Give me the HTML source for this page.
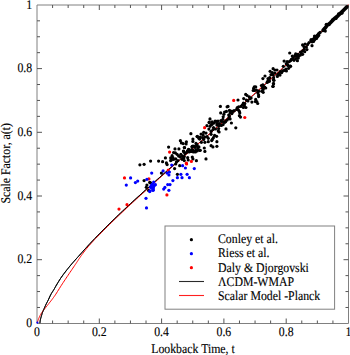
<!DOCTYPE html>
<html><head><meta charset="utf-8"><style>
html,body{margin:0;padding:0;background:#fff;}
svg{display:block;}
text{font-family:"Liberation Serif",serif;font-size:11.8px;fill:#000;text-rendering:geometricPrecision;stroke:#000;stroke-width:0.12px;}
</style></head><body>
<svg width="350" height="355" viewBox="0 0 350 355">
<path d="M37 5H348.5V323.5H37Z" fill="none" stroke="#808080" stroke-width="1"/><path d="M52.58 323.5v-3M52.58 5v3M37 307.47h3M348.5 307.47h-3M68.15 323.5v-3M68.15 5v3M37 291.55h3M348.5 291.55h-3M83.73 323.5v-3M83.73 5v3M37 275.62h3M348.5 275.62h-3M99.30 323.5v-5M99.30 5v5M37 259.70h5M348.5 259.70h-5M114.88 323.5v-3M114.88 5v3M37 243.77h3M348.5 243.77h-3M130.45 323.5v-3M130.45 5v3M37 227.85h3M348.5 227.85h-3M146.03 323.5v-3M146.03 5v3M37 211.92h3M348.5 211.92h-3M161.60 323.5v-5M161.60 5v5M37 196.00h5M348.5 196.00h-5M177.18 323.5v-3M177.18 5v3M37 180.07h3M348.5 180.07h-3M192.75 323.5v-3M192.75 5v3M37 164.15h3M348.5 164.15h-3M208.33 323.5v-3M208.33 5v3M37 148.22h3M348.5 148.22h-3M223.90 323.5v-5M223.90 5v5M37 132.30h5M348.5 132.30h-5M239.47 323.5v-3M239.47 5v3M37 116.37h3M348.5 116.37h-3M255.05 323.5v-3M255.05 5v3M37 100.45h3M348.5 100.45h-3M270.62 323.5v-3M270.62 5v3M37 84.52h3M348.5 84.52h-3M286.20 323.5v-5M286.20 5v5M37 68.60h5M348.5 68.60h-5M301.78 323.5v-3M301.78 5v3M37 52.67h3M348.5 52.67h-3M317.35 323.5v-3M317.35 5v3M37 36.75h3M348.5 36.75h-3M332.93 323.5v-3M332.93 5v3M37 20.82h3M348.5 20.82h-3" stroke="#555555" stroke-width="1" fill="none"/>
<path d="M39.90 323.20 L39.95 322.81 L40.01 322.26 L40.09 321.62 L40.18 320.93 L40.28 320.24 L40.40 319.60 L40.54 319.01 L40.70 318.42 L40.87 317.84 L41.05 317.26 L41.23 316.68 L41.40 316.10 L41.56 315.53 L41.71 314.96 L41.87 314.40 L42.03 313.84 L42.20 313.27 L42.40 312.70 L42.62 312.13 L42.85 311.57 L43.09 311.01 L43.35 310.44 L43.62 309.84 L43.90 309.20 L44.19 308.52 L44.48 307.82 L44.79 307.09 L45.11 306.34 L45.44 305.57 L45.80 304.80 L46.18 304.02 L46.58 303.23 L47.00 302.43 L47.43 301.61 L47.86 300.77 L48.30 299.90 L48.74 298.98 L49.18 298.02 L49.62 297.03 L50.08 296.05 L50.54 295.10 L51.00 294.20 L51.48 293.37 L51.96 292.59 L52.46 291.83 L52.95 291.09 L53.43 290.35 L53.90 289.60 L54.32 288.87 L54.70 288.19 L55.08 287.50 L55.47 286.77 L55.94 285.95 L56.50 285.00 L57.17 283.88 L57.93 282.63 L58.76 281.29 L59.62 279.90 L60.51 278.53 L61.40 277.20 L62.30 275.91 L63.24 274.63 L64.19 273.35 L65.16 272.08 L66.13 270.83 L67.10 269.60 L68.05 268.41 L68.99 267.24 L69.93 266.10 L70.89 264.96 L71.87 263.79 L72.90 262.60 L73.98 261.37 L75.10 260.11 L76.24 258.83 L77.40 257.55 L78.56 256.27 L79.70 255.00 L80.82 253.75 L81.92 252.50 L83.03 251.26 L84.14 250.01 L85.26 248.76 L86.40 247.50 L87.63 246.16 L88.95 244.73 L90.29 243.30 L91.55 241.95 L92.68 240.75 L93.57 239.79 L94.22 239.11 L94.68 238.63 L94.99 238.32 L95.20 238.11 L95.36 237.96 L95.51 237.81 L97.44 235.84 L99.37 233.90 L101.30 231.94 L103.23 229.98 L105.16 228.03 L107.09 226.11 L109.03 224.19 L110.96 222.29 L112.89 220.41 L114.82 218.53 L116.75 216.67 L118.68 214.82 L120.61 212.98 L122.54 211.16 L124.48 209.34 L126.41 207.53 L128.34 205.73 L130.27 203.94 L132.20 202.15 L134.13 200.38 L136.06 198.61 L137.99 196.85 L139.93 195.09 L141.86 193.34 L143.79 191.60 L145.72 189.87 L147.65 188.14 L149.58 186.41 L151.51 184.68 L153.44 182.95 L155.38 181.22 L157.31 179.50 L159.24 177.78 L161.17 176.07 L163.10 174.35 L165.03 172.65 L166.96 170.94 L168.89 169.24 L170.82 167.54 L172.76 165.84 L174.69 164.15 L176.62 162.46 L178.55 160.77 L180.48 159.08 L182.41 157.39 L184.34 155.70 L186.28 154.02 L188.21 152.34 L190.14 150.65 L192.07 148.97 L194.00 147.29 L195.93 145.61 L197.86 143.93 L199.79 142.25 L201.72 140.56 L203.66 138.88 L205.59 137.20 L207.52 135.52 L209.45 133.84 L211.38 132.15 L213.31 130.47 L215.24 128.79 L217.17 127.10 L219.11 125.41 L221.04 123.72 L222.97 122.03 L224.90 120.34 L226.83 118.65 L228.76 116.95 L230.69 115.26 L232.62 113.56 L234.56 111.86 L236.49 110.15 L238.42 108.45 L240.35 106.74 L242.28 105.03 L244.21 103.32 L246.14 101.60 L248.08 99.88 L250.01 98.16 L251.94 96.44 L253.87 94.71 L255.80 92.98 L257.73 91.25 L259.66 89.51 L261.59 87.77 L263.52 86.02 L265.46 84.27 L267.39 82.52 L269.32 80.76 L271.25 79.00 L273.18 77.24 L275.11 75.47 L277.04 73.70 L278.98 71.92 L280.91 70.15 L282.84 68.38 L284.77 66.60 L286.70 64.82 L288.63 63.04 L290.56 61.25 L292.49 59.45 L294.42 57.65 L296.36 55.85 L298.29 54.04 L300.22 52.22 L302.15 50.40 L304.08 48.58 L306.01 46.74 L307.94 44.91 L309.88 43.06 L311.81 41.22 L313.74 39.36 L315.67 37.50 L317.60 35.64 L319.53 33.76 L321.46 31.89 L323.39 30.00 L325.32 28.11 L327.26 26.21 L329.19 24.31 L331.12 22.40 L333.05 20.48 L334.98 18.56 L336.91 16.63 L338.84 14.69 L340.77 12.75 L342.71 10.80 L344.64 8.84 L346.57 6.87 L348.50 4.90" stroke="#000" stroke-width="0.95" fill="none" stroke-linejoin="round"/>
<path d="M37.20 322.80 L37.33 322.40 L37.51 321.86 L37.73 321.21 L37.97 320.51 L38.23 319.79 L38.50 319.10 L38.78 318.42 L39.09 317.70 L39.41 316.97 L39.74 316.24 L40.07 315.55 L40.40 314.90 L40.72 314.31 L41.04 313.76 L41.36 313.24 L41.69 312.73 L42.04 312.22 L42.40 311.70 L42.77 311.19 L43.14 310.70 L43.53 310.21 L43.94 309.69 L44.40 309.13 L44.90 308.50 L45.47 307.78 L46.10 307.00 L46.76 306.16 L47.45 305.30 L48.13 304.44 L48.80 303.60 L49.46 302.77 L50.13 301.92 L50.80 301.07 L51.46 300.23 L52.10 299.40 L52.70 298.60 L53.23 297.88 L53.70 297.26 L54.14 296.64 L54.61 295.98 L55.15 295.19 L55.80 294.20 L56.59 292.97 L57.48 291.56 L58.44 290.01 L59.43 288.41 L60.43 286.82 L61.40 285.30 L62.34 283.85 L63.29 282.41 L64.24 280.98 L65.19 279.56 L66.14 278.13 L67.10 276.70 L68.08 275.24 L69.07 273.76 L70.07 272.28 L71.06 270.83 L72.01 269.42 L72.90 268.10 L73.73 266.86 L74.52 265.69 L75.28 264.57 L76.00 263.49 L76.71 262.44 L77.40 261.40 L78.05 260.41 L78.65 259.49 L79.23 258.60 L79.82 257.70 L80.46 256.74 L81.20 255.70 L82.02 254.56 L82.91 253.35 L83.85 252.09 L84.83 250.80 L85.85 249.50 L86.90 248.20 L88.06 246.83 L89.35 245.35 L90.67 243.85 L91.95 242.43 L93.08 241.19 L93.97 240.19 L94.62 239.49 L95.07 239.01 L95.38 238.70 L95.60 238.50 L95.76 238.35 L95.91 238.21 L97.84 236.24 L99.77 234.30 L101.70 232.34 L103.63 230.38 L105.56 228.43 L107.49 226.51 L109.43 224.59 L111.36 222.69 L113.29 220.81 L115.22 218.93 L117.15 217.07 L119.08 215.22 L121.01 213.38 L122.94 211.56 L124.88 209.74 L126.81 207.93 L128.74 206.13 L130.67 204.34 L132.60 202.55 L134.53 200.78 L136.46 199.01 L138.39 197.25 L140.33 195.49 L142.26 193.74 L144.19 192.00 L146.12 190.27 L148.05 188.54 L149.98 186.81 L151.90 185.07 L153.82 183.32 L155.74 181.59 L157.66 179.85 L159.58 178.12 L161.50 176.39 L163.42 174.67 L165.34 172.95 L167.25 171.23 L169.17 169.52 L171.09 167.81 L173.01 166.10 L174.93 164.39 L176.85 162.69 L178.77 160.99 L180.69 159.28 L182.61 157.58 L184.53 155.89 L186.44 154.19 L188.36 152.49 L190.28 150.80 L192.20 149.10 L194.12 147.41 L196.04 145.72 L197.96 144.02 L199.88 142.33 L201.80 140.64 L203.71 138.94 L205.63 137.25 L207.55 135.55 L209.47 133.86 L211.39 132.16 L213.31 130.47 L215.23 128.77 L217.15 127.07 L219.07 125.37 L220.99 123.67 L222.90 121.97 L224.82 120.27 L226.74 118.56 L228.66 116.85 L230.58 115.14 L232.50 113.43 L234.42 111.72 L236.34 110.00 L238.26 108.29 L240.18 106.57 L242.09 104.84 L244.01 103.12 L245.93 101.39 L247.85 99.66 L249.77 97.93 L251.69 96.19 L253.61 94.45 L255.53 92.71 L257.45 90.96 L259.36 89.21 L261.29 87.47 L263.22 85.72 L265.16 83.97 L267.09 82.22 L269.02 80.46 L270.95 78.70 L272.88 76.94 L274.81 75.17 L276.74 73.40 L278.68 71.62 L280.61 69.85 L282.54 68.08 L284.47 66.30 L286.40 64.52 L288.33 62.74 L290.26 60.95 L292.19 59.15 L294.12 57.35 L296.06 55.55 L297.99 53.74 L299.92 51.92 L301.85 50.10 L303.78 48.28 L305.71 46.44 L307.64 44.61 L309.57 42.76 L311.51 40.92 L313.44 39.06 L315.37 37.20 L317.30 35.34 L319.23 33.46 L321.16 31.59 L323.09 29.70 L325.02 27.81 L326.96 25.91 L328.89 24.01 L330.82 22.10 L332.75 20.18 L334.68 18.26 L336.61 16.33 L338.54 14.39 L340.47 12.45 L342.41 10.50 L344.34 8.54 L346.27 6.57 L348.20 4.60" stroke="#f00" stroke-width="1.0" fill="none" stroke-linejoin="round"/>
<path d="M39.90 323.20 L39.95 322.81 L40.01 322.26 L40.09 321.62 L40.18 320.93 L40.28 320.24 L40.40 319.60 L40.54 319.01 L40.70 318.42 L40.87 317.84 L41.05 317.26 L41.23 316.68 L41.40 316.10 L41.56 315.53 L41.71 314.96 L41.87 314.40 L42.03 313.84 L42.20 313.27 L42.40 312.70 L42.62 312.13 L42.85 311.57 L43.09 311.01 L43.35 310.44 L43.62 309.84 L43.90 309.20 L44.19 308.52 L44.48 307.82 L44.79 307.09 L45.11 306.34 L45.44 305.57 L45.80 304.80 L46.18 304.02 L46.58 303.23 L47.00 302.43 L47.43 301.61 L47.86 300.77 L48.30 299.90 L48.74 298.98 L49.18 298.02 L49.62 297.03 L50.08 296.05 L50.54 295.10 L51.00 294.20 L51.48 293.37 L51.96 292.59 L52.46 291.83 L52.95 291.09 L53.43 290.35 L53.90 289.60 L54.32 288.87 L54.70 288.19 L55.08 287.50 L55.47 286.77 L55.94 285.95 L56.50 285.00 L57.17 283.88 L57.93 282.63 L58.76 281.29 L59.62 279.90 L60.51 278.53 L61.40 277.20 L62.30 275.91 L63.24 274.63 L64.19 273.35 L65.16 272.08 L66.13 270.83 L67.10 269.60 L68.05 268.41 L68.99 267.24 L69.93 266.10 L70.89 264.96 L71.87 263.79 L72.90 262.60 L73.98 261.37 L75.10 260.11 L76.24 258.83 L77.40 257.55 L78.56 256.27 L79.70 255.00 L80.82 253.75 L81.92 252.50 L83.03 251.26 L84.14 250.01 L85.26 248.76 L86.40 247.50 L87.63 246.16 L88.95 244.73 L90.29 243.30 L91.55 241.95 L92.68 240.75 L93.57 239.79 L94.22 239.11 L94.68 238.63 L94.99 238.32 L95.20 238.11 L95.36 237.96 L95.51 237.81 L97.44 235.84 L99.37 233.90 L101.30 231.94 L103.23 229.98 L105.16 228.03 L107.09 226.11 L109.03 224.19 L110.96 222.29 L112.89 220.41 L114.82 218.53 L116.75 216.67 L118.68 214.82 L120.61 212.98 L122.54 211.16 L124.48 209.34 L126.41 207.53 L128.34 205.73 L130.27 203.94 L132.20 202.15 L134.13 200.38 L136.06 198.61 L137.99 196.85 L139.93 195.09 L141.86 193.34 L143.79 191.60 L145.72 189.87 L147.65 188.14 L149.58 186.41 L151.51 184.68 L153.44 182.95 L155.38 181.22 L157.31 179.50 L159.24 177.78 L161.17 176.07 L163.10 174.35 L165.03 172.65 L166.96 170.94 L168.89 169.24 L170.82 167.54 L172.76 165.84 L174.69 164.15" stroke="#000" stroke-width="0.95" fill="none" stroke-linejoin="round"/>
<circle cx="37.4" cy="322.6" r="1.1" fill="#00f"/>
<path d="M318.2 35.2 L312.2 41.1" stroke="#000" stroke-width="4.4" fill="none" stroke-linecap="round" stroke-linejoin="round"/><path d="M346.9 6.9 L344.3 9.5 L340.9 12.9 L338 15.7 L334 19 L330.6 22.6 L327.1 25.4 L324.9 28.3 L323.1 30.3" stroke="#000" stroke-width="3.7" fill="none" stroke-linecap="round" stroke-linejoin="round"/><circle cx="338.6" cy="13.9" r="1.6" fill="#000"/><circle cx="336.0" cy="18.5" r="1.6" fill="#000"/><circle cx="332.5" cy="19.9" r="1.6" fill="#000"/><circle cx="329.2" cy="24.6" r="1.6" fill="#000"/><circle cx="341.9" cy="13.2" r="1.6" fill="#000"/><circle cx="326.3" cy="24.3" r="1.6" fill="#000"/><circle cx="325.3" cy="31.1" r="1.6" fill="#000"/><circle cx="320.1" cy="32.4" r="1.6" fill="#000"/><circle cx="318.9" cy="33.3" r="1.6" fill="#000"/><circle cx="318.5" cy="34.5" r="1.6" fill="#000"/><circle cx="317.0" cy="36.5" r="1.6" fill="#000"/><circle cx="315.5" cy="37.5" r="1.6" fill="#000"/><circle cx="314.5" cy="39.0" r="1.6" fill="#000"/><circle cx="313.0" cy="40.0" r="1.6" fill="#000"/><circle cx="312.0" cy="41.5" r="1.6" fill="#000"/><circle cx="314.5" cy="36.0" r="1.6" fill="#000"/><circle cx="316.5" cy="38.5" r="1.6" fill="#000"/><circle cx="311.0" cy="40.5" r="1.6" fill="#000"/><circle cx="313.5" cy="41.5" r="1.6" fill="#000"/><circle cx="312.0" cy="45.7" r="1.6" fill="#000"/><circle cx="311.1" cy="39.7" r="1.6" fill="#000"/><circle cx="302.6" cy="44.9" r="1.6" fill="#000"/><circle cx="305.1" cy="44.0" r="1.6" fill="#000"/><circle cx="307.7" cy="44.4" r="1.6" fill="#000"/><circle cx="303.9" cy="46.6" r="1.6" fill="#000"/><circle cx="306.4" cy="47.0" r="1.6" fill="#000"/><circle cx="304.3" cy="49.1" r="1.6" fill="#000"/><circle cx="306.9" cy="49.6" r="1.6" fill="#000"/><circle cx="302.6" cy="50.9" r="1.6" fill="#000"/><circle cx="304.7" cy="51.7" r="1.6" fill="#000"/><circle cx="301.3" cy="53.0" r="1.6" fill="#000"/><circle cx="302.6" cy="54.3" r="1.6" fill="#000"/><circle cx="300.4" cy="55.1" r="1.6" fill="#000"/><circle cx="289.7" cy="53.0" r="1.6" fill="#000"/><circle cx="295.7" cy="53.9" r="1.6" fill="#000"/><circle cx="297.9" cy="54.3" r="1.6" fill="#000"/><circle cx="294.9" cy="55.6" r="1.6" fill="#000"/><circle cx="297.0" cy="56.4" r="1.6" fill="#000"/><circle cx="292.3" cy="56.0" r="1.6" fill="#000"/><circle cx="293.1" cy="57.7" r="1.6" fill="#000"/><circle cx="295.7" cy="58.6" r="1.6" fill="#000"/><circle cx="298.3" cy="58.1" r="1.6" fill="#000"/><circle cx="291.4" cy="59.4" r="1.6" fill="#000"/><circle cx="294.0" cy="60.3" r="1.6" fill="#000"/><circle cx="297.4" cy="60.7" r="1.6" fill="#000"/><circle cx="298.7" cy="56.0" r="1.6" fill="#000"/><circle cx="284.1" cy="61.1" r="1.6" fill="#000"/><circle cx="287.1" cy="61.6" r="1.6" fill="#000"/><circle cx="289.3" cy="61.6" r="1.6" fill="#000"/><circle cx="286.3" cy="63.7" r="1.6" fill="#000"/><circle cx="288.0" cy="65.4" r="1.6" fill="#000"/><circle cx="290.6" cy="66.3" r="1.6" fill="#000"/><circle cx="283.3" cy="66.3" r="1.6" fill="#000"/><circle cx="309.0" cy="42.5" r="1.6" fill="#000"/><circle cx="300.5" cy="52.0" r="1.6" fill="#000"/><circle cx="296.0" cy="55.0" r="1.6" fill="#000"/><circle cx="292.5" cy="59.0" r="1.6" fill="#000"/><circle cx="290.7" cy="60.6" r="1.6" fill="#000"/><circle cx="287.7" cy="64.9" r="1.6" fill="#000"/><circle cx="290.3" cy="66.1" r="1.6" fill="#000"/><circle cx="288.6" cy="68.3" r="1.6" fill="#000"/><circle cx="286.0" cy="69.1" r="1.6" fill="#000"/><circle cx="286.4" cy="70.9" r="1.6" fill="#000"/><circle cx="284.3" cy="70.4" r="1.6" fill="#000"/><circle cx="282.6" cy="70.9" r="1.6" fill="#000"/><circle cx="281.7" cy="72.6" r="1.6" fill="#000"/><circle cx="280.4" cy="71.7" r="1.6" fill="#000"/><circle cx="279.1" cy="73.4" r="1.6" fill="#000"/><circle cx="280.0" cy="75.1" r="1.6" fill="#000"/><circle cx="277.9" cy="74.7" r="1.6" fill="#000"/><circle cx="277.4" cy="76.4" r="1.6" fill="#000"/><circle cx="273.1" cy="68.7" r="1.6" fill="#000"/><circle cx="274.9" cy="70.0" r="1.6" fill="#000"/><circle cx="270.1" cy="71.3" r="1.6" fill="#000"/><circle cx="272.3" cy="72.6" r="1.6" fill="#000"/><circle cx="277.0" cy="70.0" r="1.6" fill="#000"/><circle cx="271.0" cy="74.7" r="1.6" fill="#000"/><circle cx="273.1" cy="74.7" r="1.6" fill="#000"/><circle cx="274.9" cy="73.0" r="1.6" fill="#000"/><circle cx="265.0" cy="76.0" r="1.6" fill="#000"/><circle cx="262.9" cy="78.6" r="1.6" fill="#000"/><circle cx="268.0" cy="78.6" r="1.6" fill="#000"/><circle cx="268.9" cy="80.3" r="1.6" fill="#000"/><circle cx="267.6" cy="82.0" r="1.6" fill="#000"/><circle cx="269.7" cy="77.7" r="1.6" fill="#000"/><circle cx="273.6" cy="77.7" r="1.6" fill="#000"/><circle cx="274.0" cy="80.3" r="1.6" fill="#000"/><circle cx="273.6" cy="83.7" r="1.6" fill="#000"/><circle cx="273.1" cy="86.3" r="1.6" fill="#000"/><circle cx="262.9" cy="85.4" r="1.6" fill="#000"/><circle cx="264.6" cy="87.1" r="1.6" fill="#000"/><circle cx="267.9" cy="80.9" r="1.6" fill="#000"/><circle cx="267.1" cy="82.3" r="1.6" fill="#000"/><circle cx="262.9" cy="84.8" r="1.6" fill="#000"/><circle cx="261.4" cy="85.5" r="1.6" fill="#000"/><circle cx="265.7" cy="88.0" r="1.6" fill="#000"/><circle cx="264.3" cy="87.3" r="1.6" fill="#000"/><circle cx="262.5" cy="88.0" r="1.6" fill="#000"/><circle cx="263.2" cy="89.4" r="1.6" fill="#000"/><circle cx="263.2" cy="92.3" r="1.6" fill="#000"/><circle cx="261.8" cy="91.2" r="1.6" fill="#000"/><circle cx="254.3" cy="86.9" r="1.6" fill="#000"/><circle cx="255.7" cy="86.9" r="1.6" fill="#000"/><circle cx="253.6" cy="88.4" r="1.6" fill="#000"/><circle cx="253.2" cy="90.5" r="1.6" fill="#000"/><circle cx="254.6" cy="90.5" r="1.6" fill="#000"/><circle cx="256.4" cy="90.1" r="1.6" fill="#000"/><circle cx="258.6" cy="91.2" r="1.6" fill="#000"/><circle cx="257.9" cy="93.0" r="1.6" fill="#000"/><circle cx="258.6" cy="95.1" r="1.6" fill="#000"/><circle cx="258.6" cy="96.6" r="1.6" fill="#000"/><circle cx="245.7" cy="94.4" r="1.6" fill="#000"/><circle cx="247.1" cy="95.5" r="1.6" fill="#000"/><circle cx="249.3" cy="96.9" r="1.6" fill="#000"/><circle cx="251.1" cy="98.0" r="1.6" fill="#000"/><circle cx="250.0" cy="98.7" r="1.6" fill="#000"/><circle cx="246.4" cy="100.1" r="1.6" fill="#000"/><circle cx="247.9" cy="100.9" r="1.6" fill="#000"/><circle cx="255.7" cy="99.4" r="1.6" fill="#000"/><circle cx="256.8" cy="101.6" r="1.6" fill="#000"/><circle cx="255.4" cy="101.6" r="1.6" fill="#000"/><circle cx="273.4" cy="80.1" r="1.6" fill="#000"/><circle cx="273.4" cy="83.6" r="1.6" fill="#000"/><circle cx="272.9" cy="86.4" r="1.6" fill="#000"/><circle cx="269.4" cy="81.3" r="1.6" fill="#000"/><circle cx="238.0" cy="100.0" r="1.6" fill="#000"/><circle cx="243.7" cy="98.6" r="1.6" fill="#000"/><circle cx="251.9" cy="102.1" r="1.6" fill="#000"/><circle cx="243.4" cy="103.2" r="1.6" fill="#000"/><circle cx="244.8" cy="103.6" r="1.6" fill="#000"/><circle cx="242.3" cy="105.0" r="1.6" fill="#000"/><circle cx="244.4" cy="105.7" r="1.6" fill="#000"/><circle cx="245.9" cy="107.5" r="1.6" fill="#000"/><circle cx="243.4" cy="107.5" r="1.6" fill="#000"/><circle cx="240.9" cy="106.4" r="1.6" fill="#000"/><circle cx="238.7" cy="106.8" r="1.6" fill="#000"/><circle cx="237.3" cy="107.5" r="1.6" fill="#000"/><circle cx="236.6" cy="109.3" r="1.6" fill="#000"/><circle cx="238.4" cy="110.0" r="1.6" fill="#000"/><circle cx="239.4" cy="111.4" r="1.6" fill="#000"/><circle cx="239.8" cy="112.9" r="1.6" fill="#000"/><circle cx="239.4" cy="115.7" r="1.6" fill="#000"/><circle cx="240.5" cy="117.1" r="1.6" fill="#000"/><circle cx="229.4" cy="110.4" r="1.6" fill="#000"/><circle cx="230.9" cy="111.1" r="1.6" fill="#000"/><circle cx="232.6" cy="111.4" r="1.6" fill="#000"/><circle cx="234.1" cy="110.7" r="1.6" fill="#000"/><circle cx="230.1" cy="112.9" r="1.6" fill="#000"/><circle cx="231.9" cy="113.6" r="1.6" fill="#000"/><circle cx="228.7" cy="115.0" r="1.6" fill="#000"/><circle cx="229.4" cy="116.4" r="1.6" fill="#000"/><circle cx="228.7" cy="118.6" r="1.6" fill="#000"/><circle cx="230.1" cy="118.9" r="1.6" fill="#000"/><circle cx="228.0" cy="106.4" r="1.6" fill="#000"/><circle cx="231.4" cy="123.0" r="1.6" fill="#000"/><circle cx="235.8" cy="127.8" r="1.6" fill="#000"/><circle cx="220.4" cy="106.4" r="1.6" fill="#000"/><circle cx="227.1" cy="106.8" r="1.6" fill="#000"/><circle cx="220.7" cy="112.9" r="1.6" fill="#000"/><circle cx="224.6" cy="112.1" r="1.6" fill="#000"/><circle cx="226.4" cy="111.4" r="1.6" fill="#000"/><circle cx="223.9" cy="114.3" r="1.6" fill="#000"/><circle cx="223.2" cy="116.8" r="1.6" fill="#000"/><circle cx="222.9" cy="119.3" r="1.6" fill="#000"/><circle cx="221.4" cy="121.4" r="1.6" fill="#000"/><circle cx="223.6" cy="122.1" r="1.6" fill="#000"/><circle cx="225.7" cy="121.4" r="1.6" fill="#000"/><circle cx="227.1" cy="120.0" r="1.6" fill="#000"/><circle cx="210.0" cy="118.9" r="1.6" fill="#000"/><circle cx="209.3" cy="122.1" r="1.6" fill="#000"/><circle cx="212.1" cy="121.8" r="1.6" fill="#000"/><circle cx="214.3" cy="122.9" r="1.6" fill="#000"/><circle cx="216.4" cy="121.4" r="1.6" fill="#000"/><circle cx="217.5" cy="123.6" r="1.6" fill="#000"/><circle cx="219.3" cy="123.6" r="1.6" fill="#000"/><circle cx="212.1" cy="124.3" r="1.6" fill="#000"/><circle cx="215.1" cy="121.1" r="1.6" fill="#000"/><circle cx="218.0" cy="121.1" r="1.6" fill="#000"/><circle cx="220.9" cy="120.6" r="1.6" fill="#000"/><circle cx="224.9" cy="122.3" r="1.6" fill="#000"/><circle cx="223.1" cy="124.6" r="1.6" fill="#000"/><circle cx="221.4" cy="125.4" r="1.6" fill="#000"/><circle cx="219.1" cy="125.7" r="1.6" fill="#000"/><circle cx="216.9" cy="125.1" r="1.6" fill="#000"/><circle cx="211.1" cy="124.6" r="1.6" fill="#000"/><circle cx="210.0" cy="126.3" r="1.6" fill="#000"/><circle cx="218.6" cy="128.6" r="1.6" fill="#000"/><circle cx="218.3" cy="130.9" r="1.6" fill="#000"/><circle cx="219.1" cy="132.0" r="1.6" fill="#000"/><circle cx="211.1" cy="131.4" r="1.6" fill="#000"/><circle cx="226.0" cy="128.9" r="1.6" fill="#000"/><circle cx="211.1" cy="134.3" r="1.6" fill="#000"/><circle cx="214.6" cy="135.4" r="1.6" fill="#000"/><circle cx="216.6" cy="136.3" r="1.6" fill="#000"/><circle cx="213.4" cy="137.7" r="1.6" fill="#000"/><circle cx="212.3" cy="139.4" r="1.6" fill="#000"/><circle cx="213.5" cy="127.5" r="1.6" fill="#000"/><circle cx="215.5" cy="129.0" r="1.6" fill="#000"/><circle cx="213.0" cy="129.5" r="1.6" fill="#000"/><circle cx="209.1" cy="122.6" r="1.6" fill="#000"/><circle cx="206.9" cy="125.7" r="1.6" fill="#000"/><circle cx="208.9" cy="129.1" r="1.6" fill="#000"/><circle cx="190.9" cy="133.7" r="1.6" fill="#000"/><circle cx="203.7" cy="132.3" r="1.6" fill="#000"/><circle cx="206.0" cy="133.1" r="1.6" fill="#000"/><circle cx="201.1" cy="134.0" r="1.6" fill="#000"/><circle cx="203.1" cy="134.9" r="1.6" fill="#000"/><circle cx="197.4" cy="136.3" r="1.6" fill="#000"/><circle cx="200.3" cy="137.1" r="1.6" fill="#000"/><circle cx="202.6" cy="137.7" r="1.6" fill="#000"/><circle cx="204.9" cy="137.1" r="1.6" fill="#000"/><circle cx="207.1" cy="136.6" r="1.6" fill="#000"/><circle cx="208.3" cy="138.3" r="1.6" fill="#000"/><circle cx="192.9" cy="139.1" r="1.6" fill="#000"/><circle cx="199.7" cy="139.1" r="1.6" fill="#000"/><circle cx="203.7" cy="139.4" r="1.6" fill="#000"/><circle cx="216.9" cy="141.7" r="1.6" fill="#000"/><circle cx="216.9" cy="146.3" r="1.6" fill="#000"/><circle cx="211.1" cy="145.7" r="1.6" fill="#000"/><circle cx="212.9" cy="146.9" r="1.6" fill="#000"/><circle cx="204.3" cy="148.0" r="1.6" fill="#000"/><circle cx="204.9" cy="151.4" r="1.6" fill="#000"/><circle cx="201.4" cy="142.3" r="1.6" fill="#000"/><circle cx="204.9" cy="142.3" r="1.6" fill="#000"/><circle cx="208.3" cy="141.7" r="1.6" fill="#000"/><circle cx="211.7" cy="140.6" r="1.6" fill="#000"/><circle cx="196.9" cy="144.6" r="1.6" fill="#000"/><circle cx="194.6" cy="146.3" r="1.6" fill="#000"/><circle cx="198.0" cy="147.4" r="1.6" fill="#000"/><circle cx="200.3" cy="150.3" r="1.6" fill="#000"/><circle cx="195.7" cy="150.3" r="1.6" fill="#000"/><circle cx="191.7" cy="149.7" r="1.6" fill="#000"/><circle cx="192.3" cy="146.3" r="1.6" fill="#000"/><circle cx="191.1" cy="151.4" r="1.6" fill="#000"/><circle cx="193.4" cy="152.0" r="1.6" fill="#000"/><circle cx="192.3" cy="157.1" r="1.6" fill="#000"/><circle cx="192.9" cy="158.9" r="1.6" fill="#000"/><circle cx="206.0" cy="158.9" r="1.6" fill="#000"/><circle cx="180.4" cy="140.7" r="1.6" fill="#000"/><circle cx="181.4" cy="142.9" r="1.6" fill="#000"/><circle cx="183.2" cy="143.6" r="1.6" fill="#000"/><circle cx="186.4" cy="141.8" r="1.6" fill="#000"/><circle cx="186.1" cy="143.9" r="1.6" fill="#000"/><circle cx="168.6" cy="147.1" r="1.6" fill="#000"/><circle cx="175.0" cy="148.9" r="1.6" fill="#000"/><circle cx="178.9" cy="148.9" r="1.6" fill="#000"/><circle cx="184.3" cy="147.5" r="1.6" fill="#000"/><circle cx="188.6" cy="149.3" r="1.6" fill="#000"/><circle cx="189.3" cy="151.4" r="1.6" fill="#000"/><circle cx="183.6" cy="151.4" r="1.6" fill="#000"/><circle cx="185.0" cy="153.6" r="1.6" fill="#000"/><circle cx="186.4" cy="152.5" r="1.6" fill="#000"/><circle cx="173.6" cy="152.5" r="1.6" fill="#000"/><circle cx="175.4" cy="152.9" r="1.6" fill="#000"/><circle cx="177.1" cy="154.3" r="1.6" fill="#000"/><circle cx="178.6" cy="156.1" r="1.6" fill="#000"/><circle cx="180.4" cy="157.1" r="1.6" fill="#000"/><circle cx="182.5" cy="156.1" r="1.6" fill="#000"/><circle cx="183.6" cy="158.2" r="1.6" fill="#000"/><circle cx="182.1" cy="159.3" r="1.6" fill="#000"/><circle cx="172.1" cy="155.7" r="1.6" fill="#000"/><circle cx="170.7" cy="157.9" r="1.6" fill="#000"/><circle cx="172.9" cy="157.5" r="1.6" fill="#000"/><circle cx="171.4" cy="160.0" r="1.6" fill="#000"/><circle cx="173.6" cy="159.3" r="1.6" fill="#000"/><circle cx="175.7" cy="158.9" r="1.6" fill="#000"/><circle cx="165.4" cy="157.9" r="1.6" fill="#000"/><circle cx="166.4" cy="162.9" r="1.6" fill="#000"/><circle cx="177.9" cy="160.7" r="1.6" fill="#000"/><circle cx="176.4" cy="162.1" r="1.6" fill="#000"/><circle cx="188.2" cy="160.0" r="1.6" fill="#000"/><circle cx="187.7" cy="157.7" r="1.6" fill="#000"/><circle cx="184.3" cy="156.6" r="1.6" fill="#000"/><circle cx="180.9" cy="154.3" r="1.6" fill="#000"/><circle cx="150.6" cy="161.1" r="1.6" fill="#000"/><circle cx="158.6" cy="161.1" r="1.6" fill="#000"/><circle cx="162.6" cy="161.7" r="1.6" fill="#000"/><circle cx="167.1" cy="164.6" r="1.6" fill="#000"/><circle cx="170.6" cy="160.6" r="1.6" fill="#000"/><circle cx="175.7" cy="164.0" r="1.6" fill="#000"/><circle cx="179.7" cy="165.7" r="1.6" fill="#000"/><circle cx="184.3" cy="160.6" r="1.6" fill="#000"/><circle cx="174.6" cy="168.6" r="1.6" fill="#000"/><circle cx="161.4" cy="173.1" r="1.6" fill="#000"/><circle cx="177.4" cy="174.3" r="1.6" fill="#000"/><circle cx="150.6" cy="182.9" r="1.6" fill="#000"/><circle cx="139.9" cy="164.8" r="1.6" fill="#000"/><circle cx="144.1" cy="164.3" r="1.6" fill="#000"/><circle cx="144.1" cy="180.6" r="1.6" fill="#000"/><circle cx="149.7" cy="182.4" r="1.6" fill="#000"/><circle cx="146.9" cy="185.0" r="1.6" fill="#000"/><circle cx="146.3" cy="187.3" r="1.6" fill="#000"/><circle cx="148.6" cy="190.4" r="1.6" fill="#000"/><circle cx="196.4" cy="160.7" r="1.6" fill="#000"/><circle cx="192.9" cy="141.4" r="1.6" fill="#000"/><circle cx="196.0" cy="143.4" r="1.6" fill="#000"/><circle cx="193.1" cy="146.0" r="1.6" fill="#000"/><circle cx="192.0" cy="146.9" r="1.6" fill="#000"/><circle cx="195.1" cy="147.4" r="1.6" fill="#000"/><circle cx="197.1" cy="145.7" r="1.6" fill="#000"/><circle cx="198.9" cy="146.9" r="1.6" fill="#000"/><circle cx="197.7" cy="149.1" r="1.6" fill="#000"/><circle cx="188.6" cy="149.7" r="1.6" fill="#000"/><circle cx="190.0" cy="150.9" r="1.6" fill="#000"/><circle cx="187.4" cy="150.9" r="1.6" fill="#000"/><circle cx="189.1" cy="152.0" r="1.6" fill="#000"/><circle cx="191.4" cy="151.4" r="1.6" fill="#000"/><circle cx="193.1" cy="150.3" r="1.6" fill="#000"/><circle cx="195.4" cy="152.0" r="1.6" fill="#000"/><circle cx="197.1" cy="150.9" r="1.6" fill="#000"/><circle cx="199.4" cy="150.3" r="1.6" fill="#000"/><circle cx="198.9" cy="138.3" r="1.6" fill="#000"/><circle cx="197.1" cy="136.6" r="1.6" fill="#000"/><circle cx="184.6" cy="147.7" r="1.6" fill="#000"/><circle cx="183.4" cy="151.1" r="1.6" fill="#000"/><circle cx="184.9" cy="153.1" r="1.6" fill="#000"/><circle cx="257.7" cy="103.5" r="1.6" fill="#000"/><circle cx="233.7" cy="100.4" r="1.6" fill="#f00"/><circle cx="244.8" cy="117.5" r="1.6" fill="#f00"/><circle cx="204.6" cy="127.7" r="1.6" fill="#f00"/><circle cx="169.6" cy="152.1" r="1.6" fill="#f00"/><circle cx="186.4" cy="163.2" r="1.6" fill="#f00"/><circle cx="186.6" cy="164.0" r="1.6" fill="#f00"/><circle cx="168.3" cy="170.1" r="1.6" fill="#f00"/><circle cx="166.9" cy="194.9" r="1.6" fill="#f00"/><circle cx="124.5" cy="177.9" r="1.6" fill="#f00"/><circle cx="148.9" cy="178.9" r="1.6" fill="#f00"/><circle cx="119.0" cy="209.1" r="1.6" fill="#f00"/><circle cx="127.0" cy="204.7" r="1.6" fill="#f00"/><circle cx="191.4" cy="161.4" r="1.6" fill="#f00"/><circle cx="171.7" cy="165.1" r="1.6" fill="#00f"/><circle cx="182.6" cy="165.7" r="1.6" fill="#00f"/><circle cx="185.4" cy="168.0" r="1.6" fill="#00f"/><circle cx="151.7" cy="173.1" r="1.6" fill="#00f"/><circle cx="163.1" cy="170.9" r="1.6" fill="#00f"/><circle cx="167.1" cy="173.1" r="1.6" fill="#00f"/><circle cx="169.4" cy="172.0" r="1.6" fill="#00f"/><circle cx="168.9" cy="174.9" r="1.6" fill="#00f"/><circle cx="180.9" cy="174.3" r="1.6" fill="#00f"/><circle cx="187.1" cy="174.3" r="1.6" fill="#00f"/><circle cx="189.4" cy="177.7" r="1.6" fill="#00f"/><circle cx="177.4" cy="177.7" r="1.6" fill="#00f"/><circle cx="182.0" cy="177.7" r="1.6" fill="#00f"/><circle cx="172.9" cy="180.6" r="1.6" fill="#00f"/><circle cx="152.3" cy="184.0" r="1.6" fill="#00f"/><circle cx="154.6" cy="185.1" r="1.6" fill="#00f"/><circle cx="151.1" cy="186.9" r="1.6" fill="#00f"/><circle cx="153.4" cy="188.0" r="1.6" fill="#00f"/><circle cx="150.0" cy="190.9" r="1.6" fill="#00f"/><circle cx="152.9" cy="190.3" r="1.6" fill="#00f"/><circle cx="167.7" cy="184.6" r="1.6" fill="#00f"/><circle cx="170.0" cy="184.6" r="1.6" fill="#00f"/><circle cx="164.9" cy="187.4" r="1.6" fill="#00f"/><circle cx="163.7" cy="189.1" r="1.6" fill="#00f"/><circle cx="168.9" cy="190.3" r="1.6" fill="#00f"/><circle cx="130.6" cy="177.9" r="1.6" fill="#00f"/><circle cx="135.4" cy="182.6" r="1.6" fill="#00f"/><circle cx="137.7" cy="181.1" r="1.6" fill="#00f"/><circle cx="126.3" cy="185.1" r="1.6" fill="#00f"/><circle cx="146.9" cy="179.3" r="1.6" fill="#00f"/><circle cx="146.0" cy="198.3" r="1.6" fill="#00f"/><circle cx="146.5" cy="207.9" r="1.6" fill="#00f"/><circle cx="153.7" cy="182.1" r="1.6" fill="#00f"/><circle cx="155.4" cy="184.7" r="1.6" fill="#00f"/><circle cx="151.4" cy="185.3" r="1.6" fill="#00f"/><circle cx="153.7" cy="186.4" r="1.6" fill="#00f"/><circle cx="150.6" cy="187.3" r="1.6" fill="#00f"/><circle cx="152.6" cy="188.7" r="1.6" fill="#00f"/><circle cx="153.4" cy="190.1" r="1.6" fill="#00f"/><circle cx="149.7" cy="191.6" r="1.6" fill="#00f"/><circle cx="194.3" cy="168.6" r="1.6" fill="#00f"/>
<rect x="165" y="226" width="169.6" height="83.2" fill="#fff" stroke="#808080" stroke-width="1"/><circle cx="191.4" cy="239.7" r="1.6" fill="#000"/><circle cx="191.4" cy="253.7" r="1.6" fill="#00f"/><circle cx="191.4" cy="267.7" r="1.6" fill="#f00"/><path d="M179 281.5H204" stroke="#2a2a2a" stroke-width="1.1"/><path d="M179 295.5H204" stroke="#ff2020" stroke-width="1.1"/><g transform="translate(218.00 243.40) scale(1 1.12)"><text text-anchor="start">Conley et al.</text></g><g transform="translate(218.00 257.45) scale(1 1.12)"><text text-anchor="start">Riess et al.</text></g><g transform="translate(218.00 271.50) scale(1 1.12)"><text text-anchor="start">Daly &amp; Djorgovski</text></g><g transform="translate(218.00 285.55) scale(1 1.12)"><text text-anchor="start">ΛCDM-WMAP</text></g><g transform="translate(218.00 299.60) scale(1 1.12)"><text text-anchor="start">Scalar Model -Planck</text></g>
<g transform="translate(37.00 336.00) scale(1 1.12)"><text text-anchor="middle">0</text></g><g transform="translate(32.20 327.10) scale(1 1.12)"><text text-anchor="end">0</text></g><g transform="translate(99.30 336.00) scale(1 1.12)"><text text-anchor="middle">0.2</text></g><g transform="translate(32.20 263.40) scale(1 1.12)"><text text-anchor="end">0.2</text></g><g transform="translate(161.60 336.00) scale(1 1.12)"><text text-anchor="middle">0.4</text></g><g transform="translate(32.20 199.70) scale(1 1.12)"><text text-anchor="end">0.4</text></g><g transform="translate(223.90 336.00) scale(1 1.12)"><text text-anchor="middle">0.6</text></g><g transform="translate(32.20 136.00) scale(1 1.12)"><text text-anchor="end">0.6</text></g><g transform="translate(286.20 336.00) scale(1 1.12)"><text text-anchor="middle">0.8</text></g><g transform="translate(32.20 72.30) scale(1 1.12)"><text text-anchor="end">0.8</text></g><g transform="translate(348.50 336.00) scale(1 1.12)"><text text-anchor="middle">1</text></g><g transform="translate(32.20 8.60) scale(1 1.12)"><text text-anchor="end">1</text></g><g transform="translate(193.00 352.60) scale(1 1.12)"><text text-anchor="middle">Lookback Time, t</text></g><g transform="translate(10.3 163.3) rotate(-90) scale(1 1.12)"><text text-anchor="middle">Scale Factor, a(t)</text></g>
</svg>
</body></html>
